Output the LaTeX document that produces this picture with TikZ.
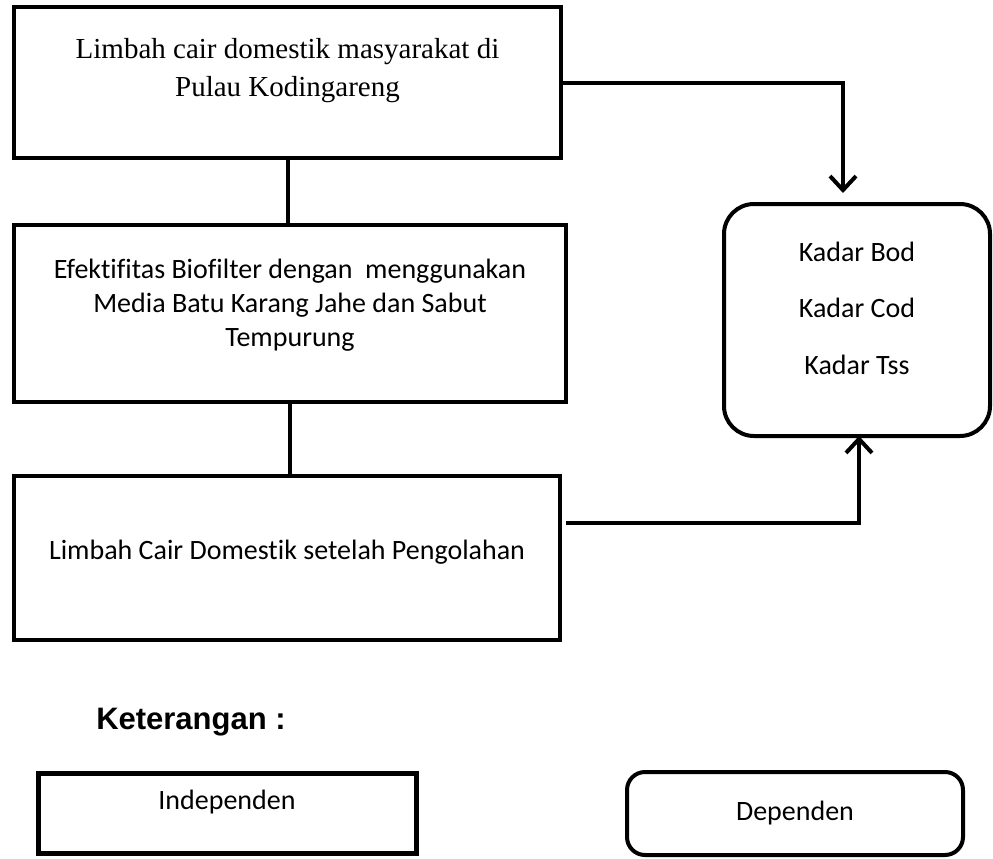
\documentclass[tikz,border=0pt]{standalone}
\usepackage{fontspec}
\setmainfont{Carlito}[Ligatures={CommonOff,RareOff}]
\newfontfamily\serifhead{Liberation Serif}
\newfontfamily\legendfont{Liberation Sans}
\usepackage{tikz}
\usetikzlibrary{arrows.meta,positioning}

\begin{document}
\begin{tikzpicture}[
  x=1pt,y=-1pt,
  every node/.style={font=\fontsize{28}{34}\selectfont,align=center},
  varbox/.style={draw,line width=4pt,inner sep=0pt,outer sep=0pt},
  depbox/.style={draw,line width=4pt,rounded corners=30pt,inner sep=0pt,outer sep=0pt},
  link/.style={line width=4pt},
  arr/.style={-{Straight Barb[length=14pt,width=26pt]},line width=4pt}
]
\useasboundingbox (0,0) rectangle (993,859);
% variabel independen
\node[varbox,minimum width=547pt,minimum height=150.5pt,text depth=31pt,
  font=\serifhead\fontsize{29}{38}\selectfont] (limbah) at (287.5,82.75)
  {Limbah cair domestik masyarakat di\\Pulau Kodingareng};
\node[varbox,minimum width=552pt,minimum height=176.5pt,text depth=20pt,
  below right=67pt and 0pt of limbah.south west] (efektif)
  {Efektifitas Biofilter dengan\ \ menggunakan\\Media Batu Karang Jahe dan Sabut\\Tempurung};
\node[varbox,minimum width=546pt,minimum height=164pt,text depth=15pt,
  below right=74pt and 0pt of efektif.south west] (hasil)
  {Limbah Cair Domestik setelah Pengolahan};
% variabel dependen
\node[depbox,minimum width=266pt,minimum height=232pt,text depth=24pt,
  font=\fontsize{28}{56.5}\selectfont] (kadar) at (857,320)
  {Kadar Bod\\Kadar Cod\\Kadar Tss};
\coordinate (keluar) at ([xshift=6pt,yshift=35pt]hasil.east);
\draw[link] (limbah.south) -- (limbah.south |- efektif.north);
\draw[link] (efektif.south) -- (efektif.south |- hasil.north);
\draw[arr,shorten >=11pt] (limbah.east) -| ([xshift=-14pt]kadar.north);
\draw[arr] (keluar) -| ([xshift=2pt]kadar.south);
% keterangan
\node[font=\legendfont\bfseries\fontsize{31}{37}\selectfont] (ket) at (191,722) {Keterangan :};
\node[varbox,line width=5pt,minimum width=378pt,minimum height=80pt,text depth=26pt] (indep) at (227,813) {Independen};
\node[depbox,rounded corners=18pt,minimum width=336pt,minimum height=83pt] (dep) at (795,813.5) {Dependen};
\end{tikzpicture}
\end{document}
